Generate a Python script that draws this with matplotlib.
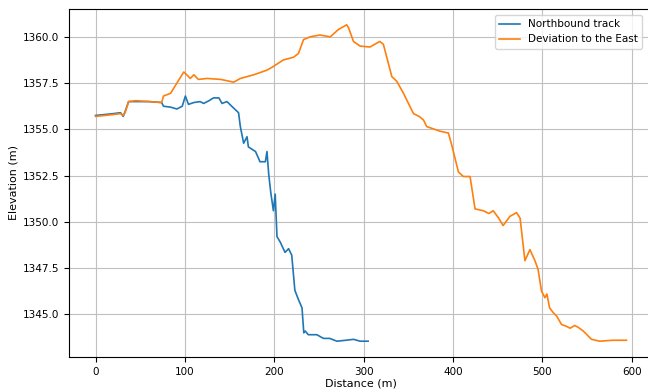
import numpy as np
import matplotlib
matplotlib.use("Agg")
import matplotlib.pyplot as plt

# Northbound track: distance (m), elevation (m)
north_d = [0, 10, 20, 28, 31, 33, 37, 45, 60, 74, 76, 84, 91, 97, 100.5, 104, 110, 117, 121,
           127, 132, 138, 141.5, 147, 154.5, 160, 162, 165.7, 169.5, 171, 179, 184, 190, 191.8,
           193.7, 196, 199, 201, 203, 206.7, 212, 216, 219.5, 223, 227, 231, 233, 234.6, 238,
           247.6, 255, 262, 270, 280, 288.6, 296, 305]
north_e = [1355.75, 1355.8, 1355.85, 1355.9, 1355.7, 1355.95, 1356.5, 1356.5, 1356.5, 1356.45,
           1356.25, 1356.2, 1356.1, 1356.25, 1356.8, 1356.35, 1356.45, 1356.5, 1356.4,
           1356.55, 1356.7, 1356.7, 1356.4, 1356.5, 1356.15, 1355.9, 1355.15, 1354.25, 1354.6,
           1354.05, 1353.8, 1353.25, 1353.25, 1353.8, 1352.6, 1351.6, 1350.6, 1351.5, 1349.2,
           1348.9, 1348.35, 1348.55, 1348.2, 1346.3, 1345.8, 1345.35, 1344.0, 1344.1, 1343.9,
           1343.9, 1343.7, 1343.7, 1343.55, 1343.6, 1343.65, 1343.55, 1343.55]

# Deviation to the East
east_d = [0, 10, 20, 28, 31, 33, 37, 45, 60, 74, 76, 84, 91, 98.7, 102, 106, 110, 115, 125,
          140, 154.5, 162, 177, 191.8, 199, 210, 221.6, 227, 232.7, 240, 251, 262.6, 271.8,
          281, 283, 288.6, 296, 307, 318, 322, 331.5, 337, 344.5, 355.7, 362, 367, 370.5,
          385.5, 394.8, 398.5, 406, 411.5, 419, 424.6, 434, 440, 445, 451, 456, 463.7, 471,
          475, 480.4, 486, 491.6, 495, 499, 502.8, 505, 508, 512, 516, 521.4, 527, 531, 536,
          540, 545.6, 554.9, 564, 579, 594]
east_e = [1355.7, 1355.75, 1355.8, 1355.85, 1355.75, 1355.9, 1356.5, 1356.55, 1356.5, 1356.45,
          1356.8, 1356.95, 1357.5, 1358.1, 1357.95, 1357.75, 1357.95, 1357.7, 1357.75,
          1357.7, 1357.55, 1357.75, 1357.95, 1358.2, 1358.4, 1358.75, 1358.9, 1359.1,
          1359.85, 1360.0, 1360.1, 1360.0, 1360.4, 1360.65, 1360.5, 1359.75, 1359.5,
          1359.45, 1359.75, 1359.6, 1357.85, 1357.6, 1356.95, 1355.85, 1355.7, 1355.5, 1355.15,
          1354.9, 1354.8, 1354.15, 1352.7, 1352.45, 1352.45, 1350.7, 1350.6, 1350.45, 1350.6,
          1350.2, 1349.8, 1350.3, 1350.5, 1350.2, 1347.9, 1348.5, 1347.9, 1347.45, 1346.25,
          1345.9, 1346.1, 1345.35, 1345.1, 1344.9, 1344.45, 1344.35, 1344.25, 1344.4,
          1344.3, 1344.1, 1343.65, 1343.55, 1343.6, 1343.6]

plt.rcParams['font.size'] = 8
fig = plt.figure(figsize=(6.48, 3.89), dpi=100)
ax = fig.add_axes([69/648, 32/389, 584/648, 348/389])
ax.plot(north_d, north_e, color='#1f77b4', lw=1.2, label="Northbound track")
ax.plot(east_d, east_e, color='#ff7f0e', lw=1.2, label="Deviation to the East")
ax.set_xlabel("Distance (m)", labelpad=1)
ax.set_ylabel("Elevation (m)", labelpad=3)
ax.set_xticks([0, 100, 200, 300, 400, 500, 600])
ax.set_yticks([1345.0, 1347.5, 1350.0, 1352.5, 1355.0, 1357.5, 1360.0])
ax.tick_params(labelsize=7.5)
ax.grid(True, color='#c0c0c0')
ax.legend(loc='upper right', bbox_to_anchor=(642/648, 374/389),
          bbox_transform=fig.transFigure, borderaxespad=0, fontsize=7.5)
fig.savefig("out.png", dpi=100)
